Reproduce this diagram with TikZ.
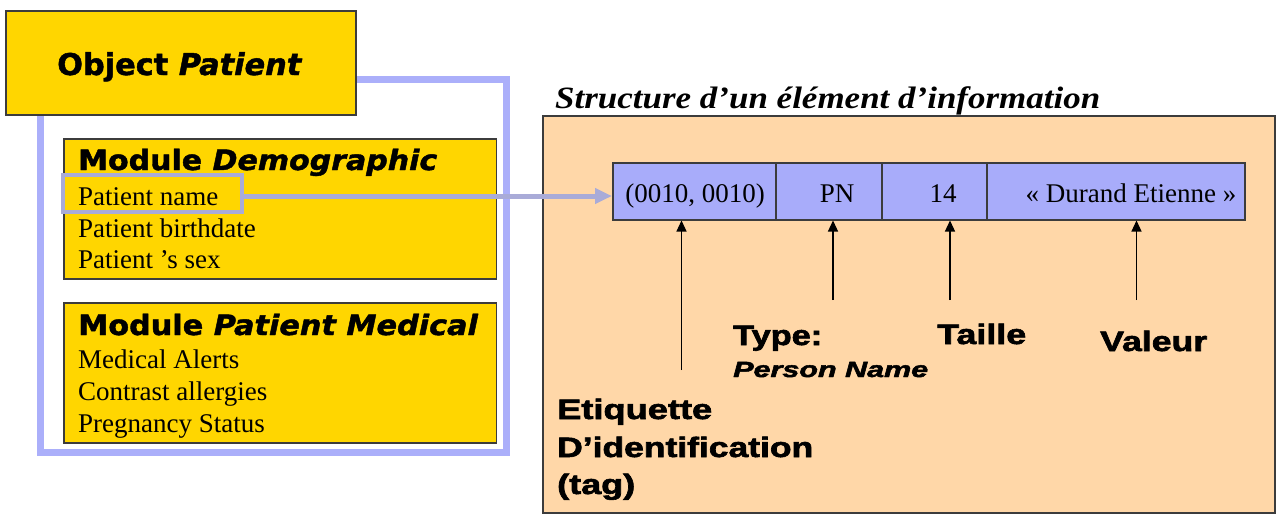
\documentclass[tikz,border=0pt]{standalone}
\usepackage{fontspec}
\usepackage{graphicx}
\setmainfont{Liberation Serif}
\newfontfamily\vsans{DejaVu Sans}[BoldFeatures={FakeBold=1.5}, BoldItalicFeatures={FakeBold=1.5}]
\newfontfamily\asans{Liberation Sans}[BoldFeatures={FakeBold=2}, BoldItalicFeatures={FakeBold=2}]
\usetikzlibrary{arrows.meta}
\newcommand\fitw[2]{\resizebox{#1}{\height}{#2}}
\definecolor{gold}{HTML}{FFD600}
\definecolor{peach}{HTML}{FFD7A8}
\definecolor{recblue}{HTML}{A8ACFA}
\definecolor{framebl}{HTML}{ABAFFA}
\definecolor{hlblue}{HTML}{A9ABD8}
\definecolor{edge}{HTML}{3C3C3C}
\tikzset{
  box/.style={draw=edge, line width=1.5pt, fill=gold, inner sep=0pt, anchor=north west},
  cell/.style={draw=edge, line width=1.5pt, fill=recblue, inner sep=0pt, anchor=north west, minimum height=57pt},
  txt/.style={inner sep=0pt, anchor=base west},
  serif/.style={txt, font=\fontsize{27}{30}\selectfont},
  modtitle/.style={txt, font=\vsans\bfseries\fontsize{28}{30}\selectfont},
  lab/.style={txt, font=\asans\bfseries\fontsize{28}{30}\selectfont},
  ptr/.style={line width=1.2pt, -{Triangle[length=11pt,width=10pt]}},
}
\begin{document}
\begin{tikzpicture}[x=1pt,y=-1pt]
\useasboundingbox (0,0) rectangle (1285,525);
% blue frame of the object
\coordinate (f1) at (355,79.5);
\coordinate (f2) at (506.5,79.5);
\coordinate (f3) at (506.5,452.5);
\coordinate (f4) at (40,452.5);
\coordinate (f5) at (40,110);
\draw[framebl, line width=7pt] (f1) -- (f2) -- (f3) -- (f4) -- (f5);
% object box
\node[box, minimum width=350pt, minimum height=104pt] (obj) at (5,10) {};
\node[txt, font=\vsans\bfseries\fontsize{30}{32}\selectfont] (objt) at (57,75) {\fitw{245pt}{Object \textit{Patient}}};
% module boxes
\node[box, minimum width=432.5pt, minimum height=140pt] (demo) at (63,138) {};
\node[box, minimum width=432.5pt, minimum height=140pt] (med) at (63,302) {};
\node[modtitle] (demot) at (78,170) {\fitw{359pt}{Module \textit{Demographic}}};
\node[serif] (pname) at (78,205) {Patient name};
\node[serif] (pbirth) at (78,237) {Patient birthdate};
\node[serif] (psex) at (78,268) {Patient ’s sex};
\node[modtitle] (medt) at (78,335) {\fitw{400pt}{Module \textit{Patient Medical}}};
\node[serif] (malert) at (78,368) {Medical Alerts};
\node[serif] (mcontr) at (78,400) {Contrast allergies};
\node[serif] (mpreg) at (78,432) {Pregnancy Status};
% highlight of patient name
\node[draw=hlblue, line width=4pt, inner sep=0pt, anchor=north west, minimum width=179pt, minimum height=37pt] (hl) at (61,173) {};
% structure panel
\node[txt, font=\bfseries\itshape\fontsize{31}{33}\selectfont] (title) at (555,108) {\fitw{545pt}{Structure d’un élément d’information}};
\node[draw=edge, line width=2pt, fill=peach, inner sep=0pt, anchor=north west, minimum width=732pt, minimum height=397pt] (panel) at (542,115) {};
\node[cell, minimum width=163pt] (c1) at (612,162) {};
\node[cell, minimum width=106pt] (c2) at (775,162) {};
\node[cell, minimum width=105pt] (c3) at (881,162) {};
\node[cell, minimum width=258pt] (c4) at (986,162) {};
\node[serif, anchor=base] (v1) at (695,202) {(0010, 0010)};
\node[serif, anchor=base] (v2) at (837,202) {PN};
\node[serif, anchor=base] (v3) at (943,202) {14};
\node[serif, anchor=base] (v4) at (1131,202) {« Durand Etienne »};
% connector from patient name
\coordinate (cy) at (0,196);
\draw[hlblue, line width=5pt, -{Triangle[length=17pt,width=15pt]}] (hl.east |- cy) -- (c1.west |- cy);
% pointer arrows
\coordinate (a1) at (681.5,370);
\coordinate (a2) at (833,300);
\coordinate (a3) at (950,300);
\coordinate (a4) at (1136.5,300);
\draw[ptr] (a1) -- (a1 |- c1.south);
\draw[ptr] (a2) -- (a2 |- c2.south);
\draw[ptr] (a3) -- (a3 |- c3.south);
\draw[ptr] (a4) -- (a4 |- c4.south);
% labels
\node[lab] (ltype) at (733,345) {\fitw{89pt}{Type:}};
\node[txt, font=\asans\bfseries\itshape\fontsize{22}{24}\selectfont] (lpn) at (733,377) {\fitw{195pt}{Person Name}};
\node[lab] (ltaille) at (937,344) {\fitw{89pt}{Taille}};
\node[lab] (lval) at (1100,351) {\fitw{107pt}{Valeur}};
\node[lab] (let1) at (557,419) {\fitw{155pt}{Etiquette}};
\node[lab] (let2) at (557,457) {\fitw{256pt}{D’identification}};
\node[lab] (let3) at (557,494) {\fitw{78pt}{(tag)}};
\end{tikzpicture}
\end{document}
